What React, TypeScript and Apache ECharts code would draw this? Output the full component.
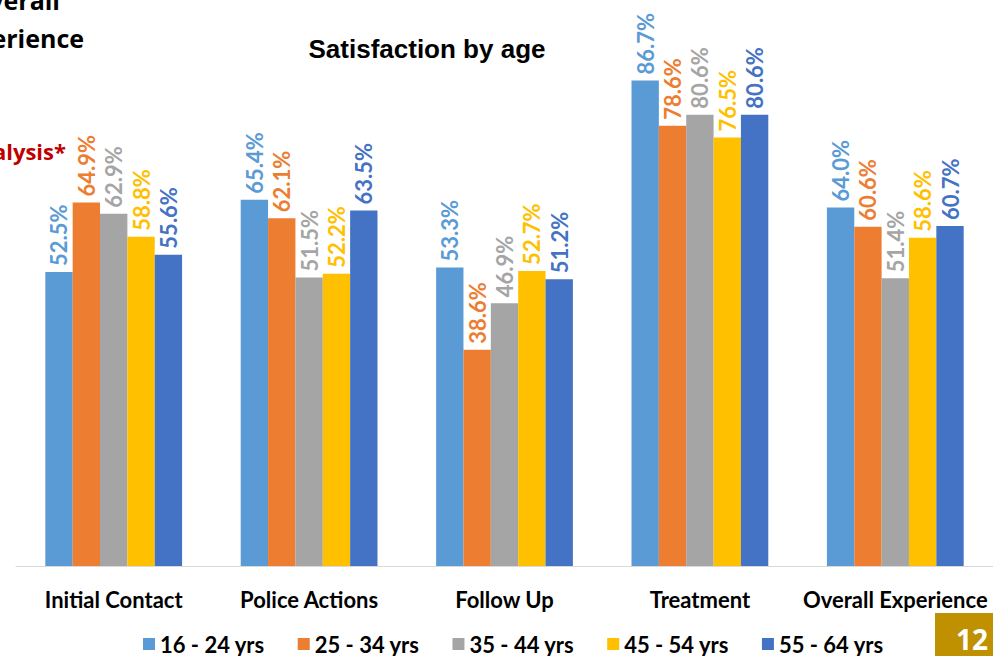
import React, { useEffect, useRef } from "react";
import * as echarts from "echarts";

const categories = ["Initial Contact", "Police Actions", "Follow Up", "Treatment", "Overall Experience"];
const seriesNames = ["16 - 24 yrs", "25 - 34 yrs", "35 - 44 yrs", "45 - 54 yrs", "55 - 64 yrs"];
const age16_24 = [52.5, 65.4, 53.3, 86.7, 64.0];
const age25_34 = [64.9, 62.1, 38.6, 78.6, 60.6];
const age35_44 = [62.9, 51.5, 46.9, 80.6, 51.4];
const age45_54 = [58.8, 52.2, 52.7, 76.5, 58.6];
const age55_64 = [55.6, 63.5, 51.2, 80.6, 60.7];
const colors = ["#5B9BD5", "#ED7D31", "#A5A5A5", "#FFC000", "#4472C4"];

export default function App() {
  const ref = useRef<HTMLDivElement>(null);
  useEffect(() => {
    if (!ref.current) return;
    const chart = echarts.init(ref.current, null, { renderer: "svg" });
    const data = [age16_24, age25_34, age35_44, age45_54, age55_64];
    const font = "Lato, 'Open Sans', sans-serif";
    chart.setOption({
      animation: false,
      backgroundColor: "#ffffff",
      title: {
        text: "Satisfaction by age",
        left: 422,
        textAlign: "center",
        top: 31,
        textStyle: { fontFamily: "'Liberation Sans', Arial, sans-serif", fontWeight: "bold", fontSize: 26, color: "#000" },
      },
      legend: {
        bottom: -4,
        left: 138,
        itemWidth: 12,
        itemHeight: 12,
        itemGap: 33,
        icon: "rect",
        textStyle: { fontFamily: font, fontWeight: "bold", fontSize: 22, color: "#000" },
        data: seriesNames,
      },
      grid: { left: 16, width: 982, top: 6, bottom: 90, containLabel: false },
      xAxis: {
        type: "category",
        data: categories,
        axisLine: { lineStyle: { color: "#D9D9D9", width: 1 } },
        axisTick: { show: false },
        axisLabel: { margin: 22, fontFamily: font, fontWeight: "bold", fontSize: 22, color: "#000", interval: 0 },
      },
      yAxis: { type: "value", min: 0, max: 100, show: false, splitLine: { show: false } },
      graphic: [
        { type: "text", right: 933, top: -13, style: { text: "Overall", font: "bold 25px 'Open Sans', sans-serif", fill: "#000" } },
        { type: "text", right: 909, top: 25, style: { text: "Experience", font: "bold 25px 'Open Sans', sans-serif", fill: "#000" } },
        { type: "text", right: 927, top: 140, style: { text: "Analysis*", font: "bold 22px 'Open Sans', sans-serif", fill: "#C00000" } },
        { type: "rect", shape: { x: 935, y: 613, width: 58, height: 43 }, style: { fill: "#BF9000" } },
        { type: "text", x: 988, y: 639, style: { text: "12", font: "bold 28px 'Open Sans', sans-serif", fill: "#fff", textAlign: "right", textVerticalAlign: "middle" } },
      ],
      series: data.map((d, i) => ({
        name: seriesNames[i],
        type: "bar",
        data: d,
        barGap: "0%",
        barCategoryGap: "30%",
        itemStyle: { color: colors[i] },
        label: {
          show: true,
          position: "top",
          rotate: 90,
          align: "left",
          verticalAlign: "middle",
          distance: 6,
          formatter: (p: any) => Number(p.value).toFixed(1) + "%",
          fontFamily: font,
          fontWeight: "bold",
          fontSize: 22,
          color: colors[i],
        },
      })),
    });
    return () => chart.dispose();
  }, []);
  return <div ref={ref} style={{ position: "fixed", left: 0, top: 0, width: 993, height: 656 }} />;
}
